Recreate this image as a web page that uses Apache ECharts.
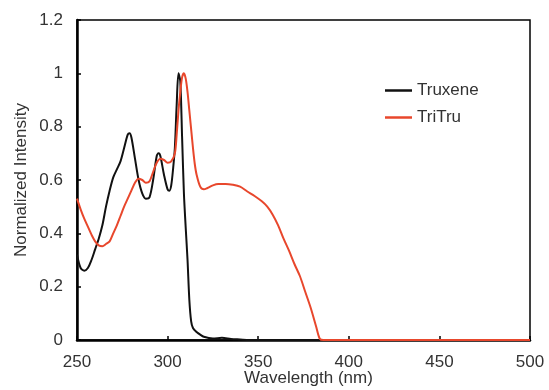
<!DOCTYPE html>
<html>
<head>
<meta charset="utf-8">
<script src="https://cdn.jsdelivr.net/npm/echarts@6/dist/echarts.min.js"></script>
<style>
  html, body { margin: 0; padding: 0; background: #ffffff; }
  #chart { width: 549px; height: 390px; }
</style>
</head>
<body>
<div id="chart"></div>
<script>
// Normalized absorption spectra (wavelength in nm)
const truxeneWavelength = [250, 252, 254, 256, 258, 260, 262, 264, 266, 268, 270, 272, 274, 276, 278, 279, 280, 282, 284, 286, 288, 290, 292, 294, 295, 296, 298, 300, 301, 302, 303, 304, 305, 306, 307, 308, 309, 310, 311, 312, 313, 314, 316, 318, 320, 325, 330, 335, 340, 345, 400, 450, 500];
const truxeneIntensity  = [0.32, 0.27, 0.26, 0.27, 0.30, 0.34, 0.38, 0.43, 0.50, 0.56, 0.61, 0.64, 0.67, 0.72, 0.77, 0.775, 0.76, 0.68, 0.60, 0.55, 0.53, 0.535, 0.60, 0.69, 0.70, 0.69, 0.62, 0.565, 0.56, 0.58, 0.64, 0.72, 0.88, 1.0, 0.97, 0.76, 0.55, 0.42, 0.30, 0.15, 0.07, 0.045, 0.03, 0.02, 0.012, 0.006, 0.008, 0.004, 0.002, 0, 0, 0, 0];

const triTruWavelength = [250, 252, 254, 256, 258, 260, 262, 264, 266, 268, 270, 272, 274, 276, 278, 280, 282, 284, 286, 288, 290, 292, 294, 296, 298, 300, 302, 304, 305, 306, 307, 308, 309, 310, 311, 312, 313, 314, 315, 316, 318, 320, 322, 325, 328, 332, 336, 340, 344, 348, 352, 355, 358, 361, 364, 367, 370, 373, 376, 379, 382, 384, 386, 400, 450, 500];
const triTruIntensity  = [0.53, 0.49, 0.455, 0.425, 0.395, 0.37, 0.355, 0.352, 0.36, 0.37, 0.40, 0.43, 0.465, 0.50, 0.53, 0.56, 0.59, 0.605, 0.60, 0.59, 0.595, 0.63, 0.665, 0.68, 0.675, 0.665, 0.67, 0.70, 0.77, 0.86, 0.93, 0.985, 1.0, 0.98, 0.93, 0.86, 0.79, 0.72, 0.66, 0.62, 0.575, 0.565, 0.57, 0.58, 0.585, 0.585, 0.582, 0.575, 0.557, 0.54, 0.52, 0.50, 0.47, 0.43, 0.38, 0.335, 0.285, 0.24, 0.18, 0.12, 0.05, 0.005, 0, 0, 0, 0];

const seriesNames = ['Truxene', 'TriTru'];
const xTicks = { min: 250, max: 500, interval: 50 };
const yTicks = { min: 0, max: 1.2, interval: 0.2 };

const pairs = (xs, ys) => xs.map((x, i) => [x, ys[i]]);

const font = 'Liberation Sans, Arial, sans-serif';
const textColor = '#333';

const chart = echarts.init(document.getElementById('chart'), null, { renderer: 'canvas' });
chart.setOption({
  animation: false,
  backgroundColor: '#ffffff',
  grid: {
    left: 77, right: 19, top: 20, bottom: 50,
    outerBoundsMode: 'none',
    containLabel: false,
    show: true, borderColor: '#000', borderWidth: 1.5, backgroundColor: 'transparent'
  },
  legend: {
    orient: 'vertical',
    left: 380, top: 77,
    icon: 'rect',
    itemWidth: 27, itemHeight: 2.5,
    itemGap: 10,
    data: seriesNames,
    textStyle: { fontFamily: font, fontSize: 17, color: textColor, lineHeight: 16 }
  },
  xAxis: {
    type: 'value',
    min: xTicks.min, max: xTicks.max, interval: xTicks.interval,
    name: 'Wavelength (nm)',
    nameLocation: 'middle', nameGap: 30,
    nameMoveOverlap: false,
    nameTextStyle: { fontFamily: font, fontSize: 17, color: textColor, padding: [0, 0, 0, 10] },
    axisLine: { onZero: false, lineStyle: { color: '#000', width: 2.5 } },
    axisTick: { inside: true, length: 4, lineStyle: { color: '#000', width: 1.5 } },
    axisLabel: { margin: 14, fontFamily: font, fontSize: 17, color: textColor },
    splitLine: { show: false }
  },
  yAxis: {
    type: 'value',
    min: yTicks.min, max: yTicks.max, interval: yTicks.interval,
    name: 'Normalized Intensity',
    nameLocation: 'middle', nameGap: 47,
    nameMoveOverlap: false,
    nameTextStyle: { fontFamily: font, fontSize: 17, color: textColor },
    axisLine: { show: true, lineStyle: { color: '#000', width: 2.5 } },
    axisTick: { show: true, inside: true, length: 4, lineStyle: { color: '#000', width: 1.5 } },
    axisLabel: { margin: 14, fontFamily: font, fontSize: 17, color: textColor },
    splitLine: { show: false }
  },
  series: [
    {
      name: seriesNames[0], type: 'line', showSymbol: false, smooth: 0.3,
      data: pairs(truxeneWavelength, truxeneIntensity),
      lineStyle: { color: '#111', width: 2 }, itemStyle: { color: '#111' }, z: 2
    },
    {
      name: seriesNames[1], type: 'line', showSymbol: false, smooth: 0.3,
      data: pairs(triTruWavelength, triTruIntensity),
      lineStyle: { color: '#e8472c', width: 2 }, itemStyle: { color: '#e8472c' }, z: 3
    }
  ]
});
</script>
</body>
</html>
